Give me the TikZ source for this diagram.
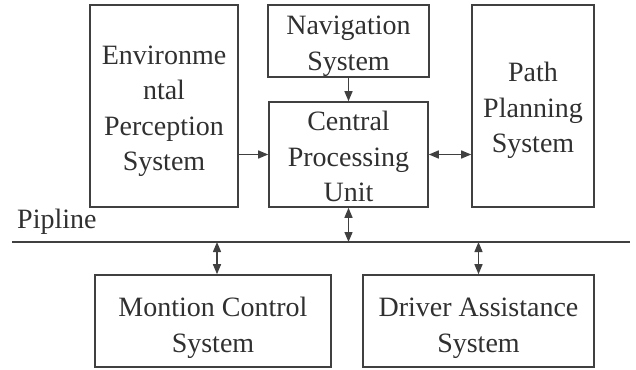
\documentclass[tikz,border=0pt]{standalone}
\usepackage{fontspec}
\setmainfont{Liberation Serif}
\usetikzlibrary{arrows.meta}
\definecolor{trait}{HTML}{404040}
\definecolor{texte}{HTML}{303030}
% strut to lower the text inside a box
\newcommand{\haut}[1]{\rule{0pt}{#1pt}}
\begin{document}
\begin{tikzpicture}
  [x=1pt, y=-1pt,
   bloc/.style={
    draw=trait,
    text=texte,
    rectangle,
    line width=1.6pt,
    align=center,
    inner sep=0pt,
    font=\fontsize{28}{35.5}\selectfont},
   lien/.style={
    draw=trait,
    line width=1.4pt,
    -{Triangle[length=10pt,width=8pt]}},
   lien2/.style={
    lien,
    {Triangle[length=10pt,width=8pt]}-{Triangle[length=10pt,width=8pt]}}]

  \useasboundingbox (0,0) rectangle (636,369);

  \node [bloc, minimum width=148pt, minimum height=202pt] at (164,106) (env)
    {\haut{29}Environme\\ntal\\Perception\\System};

  \node [bloc, minimum width=161pt, minimum height=72pt] at (348.5,41) (nav)
    {\haut{29}Navigation\\System};

  \node [bloc, minimum width=159pt, minimum height=105pt] at (348.5,154.5) (cpu)
    {\haut{24}Central\\Processing\\Unit};

  \node [bloc, minimum width=122pt, minimum height=202pt] at (533,106) (path)
    {\haut{29}Path\\Planning\\System};

  \node [bloc, minimum width=236pt, minimum height=92pt] at (213,321) (montion)
    {\haut{33}Montion Control\\System};

  \node [bloc, minimum width=231pt, minimum height=92pt] at (478.5,321) (driver)
    {\haut{33}Driver Assistance\\System};

  % bus
  \coordinate (pipeL) at (12,242);
  \coordinate (pipeR) at (630,242);
  \draw [draw=trait, line width=1.4pt] (pipeL) -- (pipeR);
  \node [text=texte, font=\fontsize{28}{35.5}\selectfont, inner sep=0pt,
    anchor=base west] at (17,228) (pipline) {Pipline};

  \draw [lien] (env.east |- cpu.west) -- (cpu.west);
  \draw [lien] (nav.south) -- (cpu.north);
  \draw [lien2] (cpu.east) -- (path.west |- cpu.east);
  \draw [lien2] (cpu.south) -- (cpu.south |- pipeL);
  \draw [lien2] ([xshift=4pt]montion.north |- pipeL) -- ([xshift=4pt]montion.north);
  \draw [lien2] (driver.north |- pipeL) -- (driver.north);
\end{tikzpicture}
\end{document}
